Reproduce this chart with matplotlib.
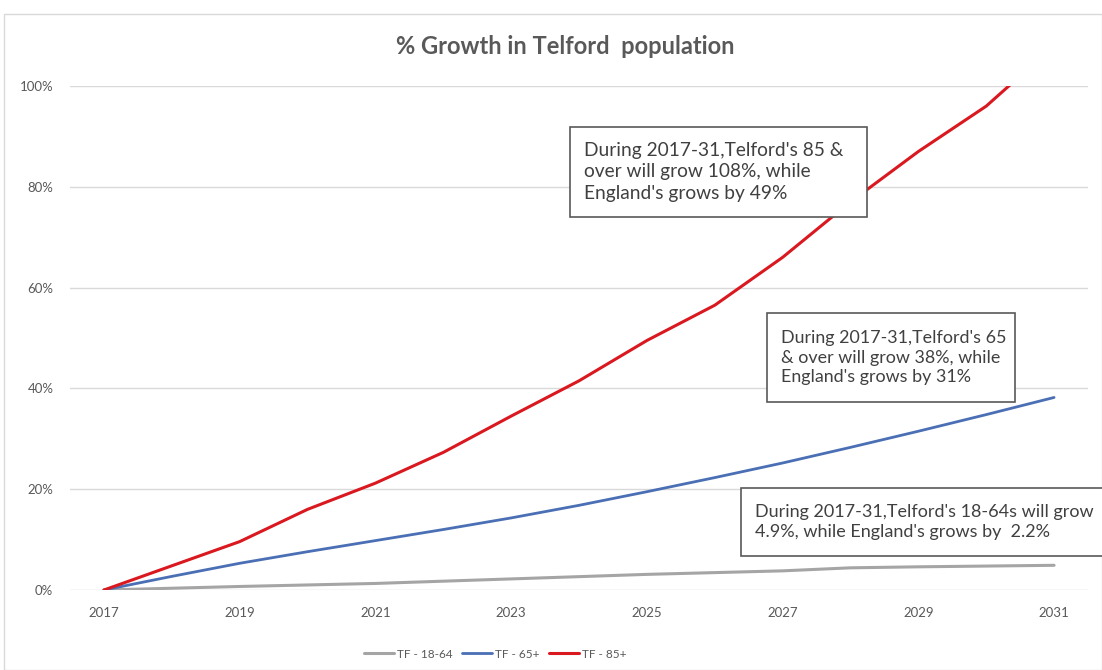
import numpy as np
import matplotlib
matplotlib.use('agg')
import matplotlib.pyplot as plt
from matplotlib.patches import Rectangle
from matplotlib.ticker import FuncFormatter

plt.rcParams['font.family'] = ['Lato', 'DejaVu Sans']

# Data (% growth since 2017)
years = list(range(2017, 2032))
tf_18_64 = [0, 0.35, 0.7, 1.0, 1.3, 1.75, 2.2, 2.65, 3.1, 3.45, 3.8, 4.4, 4.6, 4.75, 4.9]
tf_65 = [0, 2.7, 5.3, 7.6, 9.8, 12.0, 14.3, 16.8, 19.5, 22.3, 25.2, 28.3, 31.5, 34.8, 38.2]
tf_85 = [0, 4.8, 9.6, 16.0, 21.2, 27.3, 34.5, 41.5, 49.5, 56.5, 66.0, 77.0, 87.0, 96.0, 108.0]
series_labels = ['TF - 18-64', 'TF - 65+', 'TF - 85+']
yticks = [0, 20, 40, 60, 80, 100]
xticks = years[::2]

notes = [
    "During 2017-31,Telford's 85 &\nover will grow 108%, while\nEngland's grows by 49%",
    "During 2017-31,Telford's 65\n& over will grow 38%, while\nEngland's grows by 31%",
    "During 2017-31,Telford's 18-64s will grow\n4.9%, while England's grows by  2.2%",
]

W, H = 1102, 670
fig = plt.figure(figsize=(W / 100, H / 100), dpi=100)
ax = fig.add_axes([70 / W, 1 - 590 / H, (1088 - 70) / W, (590 - 86) / H])

ax.plot(years, tf_18_64, color='#a5a5a5', lw=2.2, label=series_labels[0], solid_capstyle='round')
ax.plot(years, tf_65, color='#4a6fb5', lw=2.0, label=series_labels[1], solid_capstyle='round')
ax.plot(years, tf_85, color='#d9191f', lw=2.2, label=series_labels[2], solid_capstyle='round')

ax.set_xlim(2016.5, 2031.5)
ax.set_ylim(0, 100)
ax.set_xticks(xticks)
ax.set_yticks(yticks)
ax.yaxis.set_major_formatter(FuncFormatter(lambda v, p: '{:.0f}%'.format(v)))
ax.tick_params(length=0, labelsize=9.5, labelcolor='#595959')
ax.tick_params(axis='y', pad=12)
ax.tick_params(axis='x', pad=12)
for s in ax.spines.values():
    s.set_visible(False)
for t in yticks:
    ax.axhline(t, color='#d9d9d9', lw=1.0, zorder=0)

fig.text(565 / W, 1 - 47 / H, '% Growth in Telford  population', ha='center', va='center',
         fontsize=17, fontweight='bold', color='#595959')

# chart border
fig.patches.append(Rectangle((4 / W, 0), (W - 4) / W, 1 - 14 / H, transform=fig.transFigure,
                             fill=False, edgecolor='#d9d9d9', lw=1.0))

# annotation boxes (left, top, right, bottom in pixels)
boxes = [(570, 127, 867, 217), (767, 313, 1015, 402), (741, 488, 1110, 556)]
sizes = [13.8, 12.9, 13.0]
for (l, t, r, b), txt, fs in zip(boxes, notes, sizes):
    fig.patches.append(Rectangle((l / W, 1 - b / H), (r - l) / W, (b - t) / H,
                                 transform=fig.transFigure, facecolor='white',
                                 edgecolor='#595959', lw=1.2, zorder=5))
    fig.text((l + 14) / W, 1 - (t + b) / 2 / H, txt, ha='left', va='center',
             fontsize=fs, color='#404040', linespacing=1.3, zorder=6)

leg = fig.legend(loc='center', bbox_to_anchor=(495 / W, 1 - 654 / H), ncol=3, frameon=False,
                 fontsize=8.5, handlelength=2.6, handletextpad=0.2, columnspacing=0.8)
for t in leg.get_texts():
    t.set_color('#595959')

fig.savefig('out.png', dpi=100)
